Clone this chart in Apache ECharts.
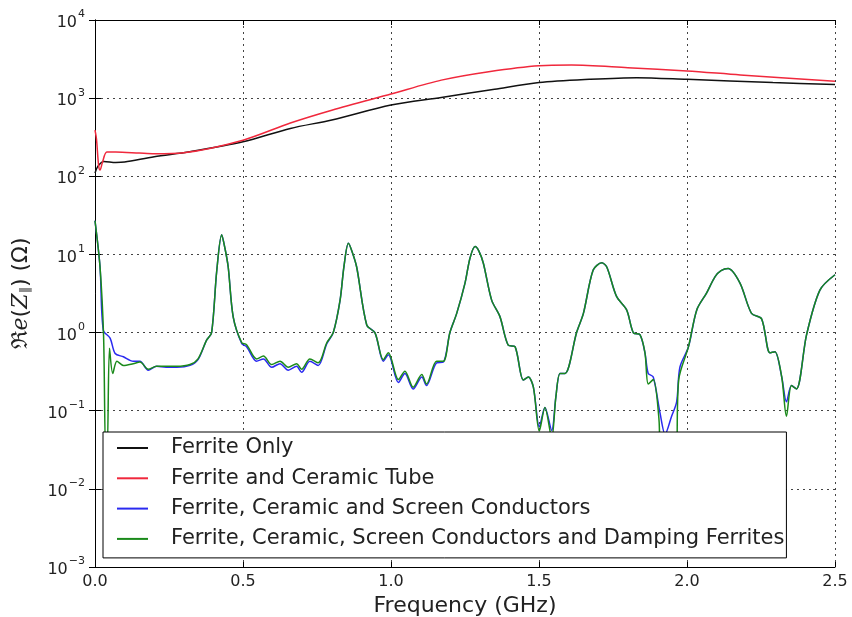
<!DOCTYPE html>
<html>
<head>
<meta charset="utf-8">
<script src="https://cdn.jsdelivr.net/npm/echarts@6/dist/echarts.min.js"></script>
<style>html,body{margin:0;padding:0;background:#fff}#c{width:852px;height:617px}</style>
</head>
<body>
<div id="c"></div>
<script>
// ---- data (frequency in GHz, Re(Z) in Ohm) ----
const seriesNames = [
  'Ferrite Only',
  'Ferrite and Ceramic Tube',
  'Ferrite, Ceramic and Screen Conductors',
  'Ferrite, Ceramic, Screen Conductors and Damping Ferrites'
];
const xTicks = [0.0, 0.5, 1.0, 1.5, 2.0, 2.5];

const blackX = [0, 0.01, 0.03, 0.07, 0.1, 0.2, 0.32, 0.5, 0.66, 0.8, 1.0, 1.17, 1.35, 1.5, 1.67, 1.83, 2.0, 2.29, 2.5];
const blackY = [110, 135, 155, 150, 152, 178, 206, 276, 410, 525, 816, 1020, 1300, 1580, 1740, 1830, 1740, 1580, 1500];

const redX = [0, 0.005, 0.012, 0.017, 0.025, 0.04, 0.07, 0.15, 0.2, 0.3, 0.5, 0.66, 0.8, 1.0, 1.17, 1.33, 1.5, 1.61, 1.8, 2.0, 2.18, 2.5];
const redY = [390, 300, 140, 120, 150, 205, 205, 198, 194, 200, 290, 480, 700, 1130, 1700, 2180, 2600, 2650, 2450, 2230, 1980, 1650];

const blueX = [0, 0.017, 0.028, 0.051, 0.068, 0.096, 0.129, 0.152, 0.180, 0.208, 0.24, 0.276, 0.321, 0.348, 0.377, 0.394, 0.411, 0.428, 0.439, 0.450, 0.467, 0.496, 0.512, 0.546, 0.569, 0.597, 0.625, 0.653, 0.681, 0.698, 0.726, 0.754, 0.783, 0.805, 0.828, 0.841, 0.856, 0.868, 0.884, 0.918, 0.946, 0.974, 0.991, 1.025, 1.047, 1.075, 1.104, 1.120, 1.154, 1.177, 1.199, 1.222, 1.250, 1.267, 1.284, 1.297, 1.312, 1.340, 1.368, 1.396, 1.419, 1.447, 1.464, 1.481, 1.501, 1.520, 1.543, 1.557, 1.571, 1.588, 1.627, 1.650, 1.683, 1.712, 1.729, 1.762, 1.796, 1.819, 1.841, 1.858, 1.869, 1.886, 1.909, 1.926, 1.948, 1.965, 1.976, 2.005, 2.033, 2.066, 2.095, 2.115, 2.139, 2.179, 2.218, 2.252, 2.280, 2.297, 2.320, 2.336, 2.353, 2.370, 2.404, 2.449, 2.5];
const blueY = [27, 6.9, 1.07, 0.85, 0.54, 0.49, 0.43, 0.43, 0.33, 0.37, 0.36, 0.36, 0.38, 0.45, 0.80, 1.0, 6.0, 17.8, 12, 6.9, 1.58, 0.72, 0.66, 0.43, 0.46, 0.36, 0.40, 0.33, 0.37, 0.31, 0.43, 0.38, 0.72, 1.0, 2.6, 7, 13.9, 11, 6.9, 1.25, 0.99, 0.43, 0.52, 0.23, 0.30, 0.19, 0.27, 0.21, 0.41, 0.42, 1.0, 1.76, 4.3, 9, 12.6, 11, 7.7, 2.6, 1.6, 0.69, 0.66, 0.247, 0.27, 0.20, 0.062, 0.11, 0.056, 0.15, 0.30, 0.30, 1.0, 1.76, 6.3, 7.8, 6.9, 2.9, 1.95, 0.99, 0.94, 0.55, 0.30, 0.27, 0.093, 0.05, 0.085, 0.13, 0.36, 0.66, 1.95, 3.2, 5.2, 6.2, 6.6, 4.3, 1.76, 1.5, 0.55, 0.57, 0.27, 0.13, 0.21, 0.19, 0.94, 3.5, 5.5];

const greenX = [0, 0.017, 0.029, 0.036, 0.041, 0.049, 0.060, 0.074, 0.096, 0.129, 0.152, 0.180, 0.208, 0.24, 0.276, 0.321, 0.348, 0.377, 0.394, 0.411, 0.428, 0.439, 0.450, 0.467, 0.496, 0.512, 0.546, 0.569, 0.597, 0.625, 0.653, 0.681, 0.698, 0.726, 0.754, 0.783, 0.805, 0.828, 0.841, 0.856, 0.868, 0.884, 0.918, 0.946, 0.974, 0.991, 1.025, 1.047, 1.075, 1.104, 1.120, 1.154, 1.177, 1.199, 1.222, 1.250, 1.267, 1.284, 1.297, 1.312, 1.340, 1.368, 1.396, 1.419, 1.447, 1.464, 1.481, 1.501, 1.520, 1.543, 1.557, 1.571, 1.588, 1.627, 1.650, 1.683, 1.712, 1.729, 1.762, 1.796, 1.819, 1.841, 1.858, 1.869, 1.886, 1.905, 1.915, 1.960, 1.972, 2.005, 2.033, 2.066, 2.095, 2.115, 2.139, 2.179, 2.218, 2.252, 2.280, 2.297, 2.320, 2.336, 2.353, 2.370, 2.404, 2.449, 2.5];
const greenY = [27, 6.9, 0.9, 0.031, 0.031, 0.63, 0.30, 0.43, 0.38, 0.40, 0.42, 0.34, 0.37, 0.37, 0.37, 0.39, 0.46, 0.80, 1.0, 6.0, 17.8, 12, 6.9, 1.58, 0.74, 0.70, 0.46, 0.50, 0.39, 0.43, 0.36, 0.40, 0.34, 0.46, 0.41, 0.74, 1.0, 2.6, 7, 13.9, 11, 6.9, 1.25, 0.99, 0.45, 0.55, 0.25, 0.32, 0.20, 0.29, 0.22, 0.43, 0.43, 1.0, 1.76, 4.3, 9, 12.6, 11, 7.7, 2.6, 1.6, 0.69, 0.66, 0.247, 0.27, 0.20, 0.055, 0.11, 0.045, 0.15, 0.30, 0.30, 1.0, 1.76, 6.3, 7.8, 6.9, 2.9, 1.95, 0.99, 0.94, 0.55, 0.22, 0.25, 0.08, 0.015, 0.015, 0.25, 0.66, 1.95, 3.2, 5.2, 6.2, 6.6, 4.3, 1.76, 1.5, 0.55, 0.57, 0.27, 0.085, 0.21, 0.19, 0.94, 3.5, 5.5];

const colors = ['#111111', '#f0283c', '#2a2af0', '#1a8a1a'];

function pairs(xs, ys) { return xs.map((x, i) => [x, ys[i]]); }

const chart = echarts.init(document.getElementById('c'), null, {renderer: 'canvas'});
const FONT = 'DejaVu Sans';
const gridLine = {show: true, lineStyle: {color: '#444', type: [2, 4], width: 1}};
const supLabel = function (v) {
  const e = Math.round(Math.log10(v));
  return '{b|10}{s|' + (e < 0 ? '\u2212' + (-e) : e) + '}';
};
const labelRich = {
  b: {fontSize: 16, fontFamily: FONT, color: '#222', lineHeight: 22, verticalAlign: 'bottom'},
  s: {fontSize: 11, fontFamily: FONT, color: '#222', lineHeight: 22, verticalAlign: 'top', padding: [0, 0, 9, 1]}
};

chart.setOption({
  animation: false,
  backgroundColor: '#fff',
  textStyle: {fontFamily: FONT},
  grid: {left: 95, right: 17, top: 20, bottom: 50, containLabel: false, outerBoundsMode: 'none'},
  xAxis: [{
    type: 'value', min: 0, max: 2.5, interval: 0.5,
    name: 'Frequency (GHz)', nameLocation: 'middle', nameGap: 24,
    nameTextStyle: {fontSize: 22, fontFamily: FONT, color: '#222'},
    axisLine: {show: true, lineStyle: {color: '#000', width: 1}},
    axisTick: {show: true, inside: true, length: 5, lineStyle: {color: '#000'}},
    axisLabel: {fontSize: 16, fontFamily: FONT, color: '#222', margin: 7, formatter: v => v.toFixed(1)},
    splitLine: gridLine
  }, {
    type: 'value', min: 0, max: 2.5, interval: 0.5, position: 'top',
    axisLine: {show: true, lineStyle: {color: '#000', width: 1}},
    axisTick: {show: true, inside: true, length: 5, lineStyle: {color: '#000'}},
    axisLabel: {show: false}, splitLine: {show: false}
  }],
  yAxis: [{
    type: 'log', logBase: 10, min: 0.001, max: 10000,
    name: '{r|\u211C}{i|e}({i|Z}{sub|\u2225}) (\u03A9)', nameLocation: 'middle', nameGap: 63, nameRotate: 90,
    nameTextStyle: {
      fontSize: 22, fontFamily: FONT, color: '#222',
      rich: {
        r: {fontSize: 22, fontFamily: 'DejaVu Serif', color: '#222'},
        i: {fontSize: 22, fontFamily: 'DejaVu Serif', fontStyle: 'italic', color: '#222'},
        sub: {fontSize: 13, fontFamily: FONT, color: '#222', verticalAlign: 'bottom', padding: [8, 0, 0, 0]}
      }
    },
    axisLine: {show: true, lineStyle: {color: '#000', width: 1}},
    axisTick: {show: true, inside: true, length: 6, lineStyle: {color: '#000'}},
    minorTick: {show: false},
    axisLabel: {margin: 10, formatter: supLabel, rich: labelRich},
    splitLine: gridLine
  }, {
    type: 'log', logBase: 10, min: 0.001, max: 10000, position: 'right',
    axisLine: {show: true, lineStyle: {color: '#000', width: 1}},
    axisTick: {show: true, inside: true, length: 6, lineStyle: {color: '#000'}},
    axisLabel: {show: false}, splitLine: {show: false}
  }],
  legend: {
    orient: 'vertical', left: 103, top: 432,
    data: seriesNames,
    icon: 'rect', itemWidth: 31, itemHeight: 2, itemGap: 8.3,
    padding: [5, 2, 8, 14],
    borderColor: '#000', borderWidth: 1, backgroundColor: '#fff',
    textStyle: {fontSize: 21, fontFamily: FONT, color: '#222', lineHeight: 22, padding: [0, 0, 0, 18]},
    z: 10
  },
  series: [
    {name: seriesNames[0], type: 'line', data: pairs(blackX, blackY), smooth: 0.3, showSymbol: false, lineStyle: {color: colors[0], width: 1.5}, itemStyle: {color: colors[0]}, z: 3},
    {name: seriesNames[1], type: 'line', data: pairs(redX, redY), smooth: 0.3, showSymbol: false, lineStyle: {color: colors[1], width: 1.5}, itemStyle: {color: colors[1]}, z: 3},
    {name: seriesNames[2], type: 'line', data: pairs(blueX, blueY), smooth: 0.3, showSymbol: false, lineStyle: {color: colors[2], width: 1.5}, itemStyle: {color: colors[2]}, z: 3},
    {name: seriesNames[3], type: 'line', data: pairs(greenX, greenY), smooth: 0.3, showSymbol: false, lineStyle: {color: colors[3], width: 1.5}, itemStyle: {color: colors[3]}, z: 3}
  ]
});
</script>
</body>
</html>
